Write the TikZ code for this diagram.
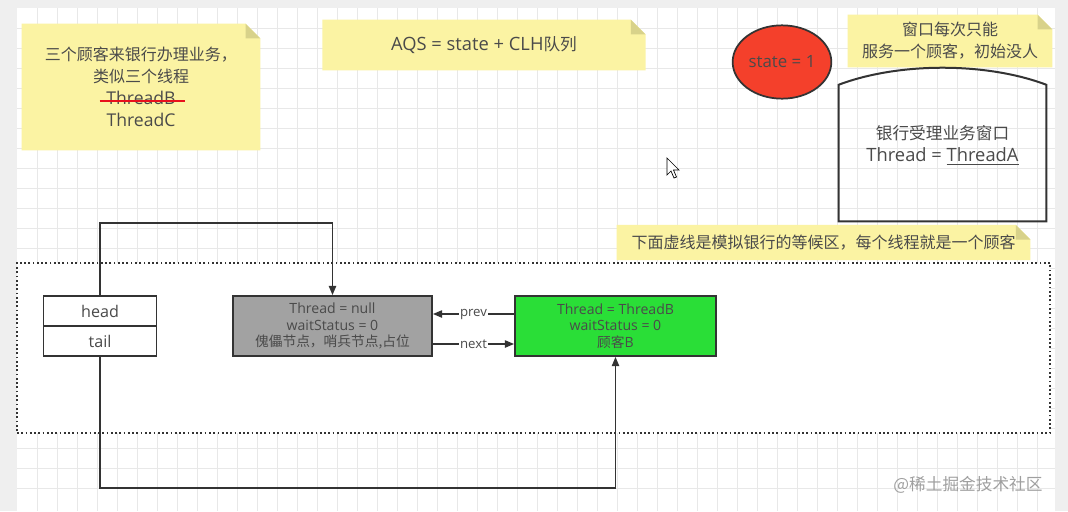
\documentclass[tikz,border=0pt]{standalone}
\usepackage{fontspec}
\setmainfont{Open Sans}[Scale=1.1]
\newfontfamily\cjk{Noto Sans CJK SC}
\usetikzlibrary{arrows.meta,shapes.geometric,backgrounds}
\definecolor{notey}{HTML}{FBF3A3}
\definecolor{foldc}{HTML}{D8D28A}
\definecolor{txt}{HTML}{4A4A4A}
\definecolor{ln}{HTML}{333333}
\definecolor{gridc}{HTML}{E8E8E8}
\definecolor{pageg}{HTML}{EFEFEF}
\definecolor{redst}{HTML}{F4402B}
\definecolor{greenb}{HTML}{2ADE37}
\definecolor{grayb}{HTML}{A2A2A2}
\definecolor{strk}{HTML}{E8101C}
\newcommand{\cjks}{\cjk\fontsize{10.3pt}{12.3pt}\selectfont}
\tikzset{
  note/.style={inner sep=0pt, minimum width=#1, text=txt, align=center, font=\fontsize{12pt}{16.5pt}\selectfont},
  box/.style={draw=ln, line width=1.3pt, inner sep=0pt, text=txt, align=center},
  qnode/.style={box, minimum width=#1, minimum height=45pt, font=\fontsize{9.6pt}{12.3pt}\selectfont},
  arr/.style={draw=ln, line width=1.2pt, -{Triangle[length=7pt,width=5.5pt]}},
  lbl/.style={fill=white, inner sep=1pt, text=txt, font=\fontsize{9pt}{11pt}\selectfont}
}
\begin{document}
\begin{tikzpicture}[x=0.75pt,y=-0.75pt]
\useasboundingbox (0,0) rectangle (1068,511);
% page and grid
\begin{scope}[on background layer]
\fill[pageg] (0,0) rectangle (1068,511);
\fill[white] (17,8) rectangle (1055,511);
\foreach \x in {37,57,...,1040} \draw[gridc, line width=0.5pt] (\x,8) -- (\x,511);
\foreach \y in {28,48,...,500} \draw[gridc, line width=0.5pt] (17,\y) -- (1055,\y);
\end{scope}

% waiting area
\node[draw=ln, fill=white, line width=1.3pt, dash pattern=on 1.3pt off 1.9pt, minimum width=774.75pt, minimum height=127.5pt, inner sep=0pt] (wait) at (533.5,348) {};

% notes
\node[note=178.5pt, minimum height=94.5pt, text depth=-4pt] (n1) at (141,87) {{\cjk 三个顾客来银行办理业务，}\\{\cjk 类似三个线程}\\ThreadB\\ThreadC};
\draw[strk, line width=2pt] ([xshift=-31pt,yshift=-10.5pt]n1.center) -- ([xshift=33pt,yshift=-10.5pt]n1.center);
\node[note=242pt, minimum height=37.5pt, font=\fontsize{12.5pt}{16.5pt}\selectfont] (n2) at (484,45) {AQS = state + CLH{\cjk 队列}};
\node[note=153pt, minimum height=39pt] (n3) at (950,41) {{\cjk 窗口每次只能}\\{\cjk 服务一个顾客，初始没人}};
\node[note=310pt, minimum height=26pt] (n4) at (823.5,242.5) {{\cjk 下面虚线是模拟银行的等候区，每个线程就是一个顾客}};
\begin{scope}[on background layer]
\foreach \n in {n1,n2,n3,n4}{
  \fill[notey] (\n.south west) -- (\n.north west) -- ([xshift=-11pt]\n.north east) -- ([yshift=-11pt]\n.north east) -- (\n.south east) -- cycle;
  \fill[foldc] ([xshift=-11pt]\n.north east) -- ([xshift=-11pt,yshift=-11pt]\n.north east) -- ([yshift=-11pt]\n.north east) -- cycle;
}
\end{scope}

% state
\node[ellipse, draw=ln, line width=1.3pt, fill=redst, minimum width=74pt, minimum height=55pt, inner sep=0pt, text=txt, font=\fontsize{11.5pt}{12pt}\selectfont] (st) at (782,62) {state = 1};

% window
\node[inner sep=0pt, minimum width=155.25pt, minimum height=102pt] (win) at (942.5,153) {};
\draw[ln, line width=1.5pt] (win.south west) -- (win.north west) .. controls ([xshift=45pt,yshift=17pt]win.north west) and ([xshift=-45pt,yshift=17pt]win.north east) .. (win.north east) -- (win.south east) -- cycle;
\node[inner sep=0pt, text=txt, align=center, font=\fontsize{12.5pt}{17pt}\selectfont] (wintxt) at ([yshift=6pt]win.center) {{\cjk 银行受理业务窗口}\\Thread = \underline{ThreadA}};

% head / tail
\node[box, minimum width=84.75pt, minimum height=22.5pt, font=\fontsize{11pt}{14pt}\selectfont] (hd) at (100,311) {head};
\node[box, minimum width=84.75pt, minimum height=22.5pt, font=\fontsize{11pt}{14pt}\selectfont] (tl) at (100,341) {tail};

% queue nodes
\node[qnode=149.25pt, fill=grayb] (dummy) at (332.5,326) {Thread = null\\waitStatus = 0\\{\cjks 傀儡节点，哨兵节点,占位}};
\node[qnode=150.75pt, fill=greenb] (nb) at (615.5,326) {Thread = ThreadB\\waitStatus = 0\\{\cjks 顾客}B};

% connectors
\draw[arr] ([yshift=9pt]nb.west) -- node[lbl]{prev} ([yshift=9pt]dummy.east);
\draw[arr] ([yshift=-13.5pt]dummy.east) -- node[lbl]{next} ([yshift=-13.5pt]nb.west);
\draw[arr] (hd.north) -- ++(0,-72) -| (dummy.north);
\draw[arr] (tl.south) -- ++(0,131) -| (nb.south);

% cursor
\draw[black, fill=white, line width=0.5pt] (667,158) -- (667,175) -- (671,171) -- (674,178) -- (676.5,177) -- (673.5,170) -- (679,170) -- cycle;

% watermark
\node[text=gray!75, font=\fontsize{12.5pt}{14pt}\selectfont\cjk, inner sep=0pt] (wm) at (968,485) {@稀土掘金技术社区};
\end{tikzpicture}
\end{document}
